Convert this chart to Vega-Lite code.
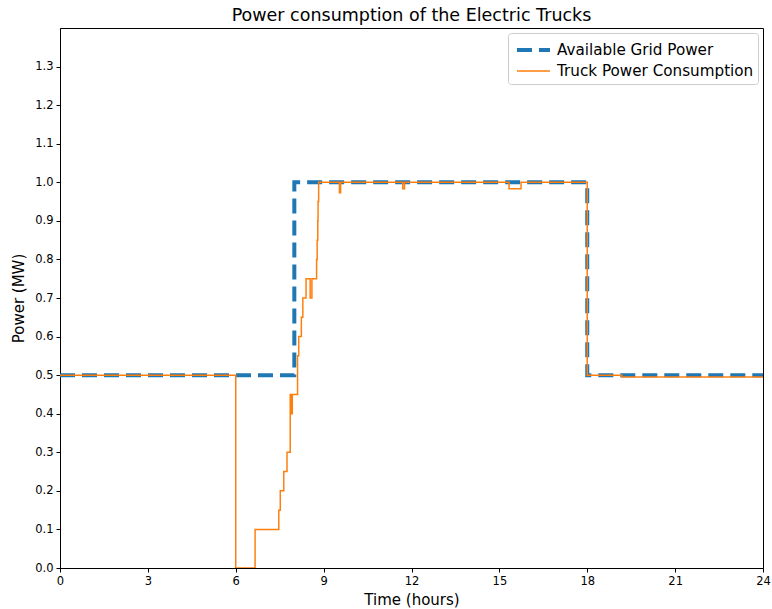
{
  "$schema": "https://vega.github.io/schema/vega-lite/v6.json",
  "width": 703,
  "height": 540,
  "autosize": "none",
  "padding": {"left": 60, "top": 28, "right": 9, "bottom": 41},
  "background": "white",
  "config": {
    "font": "DejaVu Sans",
    "view": {"stroke": "black", "strokeWidth": 1},
    "axis": {"grid": false, "domainColor": "black", "tickColor": "black", "labelColor": "black", "titleColor": "black", "labelFont": "DejaVu Sans", "titleFont": "DejaVu Sans", "labelFontSize": 11.5, "titleFontSize": 15, "titleFontWeight": "normal", "tickSize": 4, "labelPadding": 3}
  },
  "title": {"text": "Power consumption of the Electric Trucks", "font": "DejaVu Sans", "fontSize": 17.5, "fontWeight": "normal", "color": "black", "offset": 4},
  "datasets": {
    "grid": [
      {"t": 0, "p": 0.5, "series": "Available Grid Power"},
      {"t": 8, "p": 1.0, "series": "Available Grid Power"},
      {"t": 18, "p": 0.5, "series": "Available Grid Power"},
      {"t": 24, "p": 0.5, "series": "Available Grid Power"}
    ],
    "truck": [
      {"t": 0, "p": 0.5, "series": "Truck Power Consumption"},
      {"t": 6.0, "p": 0.0, "series": "Truck Power Consumption"},
      {"t": 6.66, "p": 0.1, "series": "Truck Power Consumption"},
      {"t": 7.47, "p": 0.15, "series": "Truck Power Consumption"},
      {"t": 7.52, "p": 0.2, "series": "Truck Power Consumption"},
      {"t": 7.64, "p": 0.25, "series": "Truck Power Consumption"},
      {"t": 7.75, "p": 0.3, "series": "Truck Power Consumption"},
      {"t": 7.86, "p": 0.45, "series": "Truck Power Consumption"},
      {"t": 7.9, "p": 0.4, "series": "Truck Power Consumption"},
      {"t": 7.93, "p": 0.45, "series": "Truck Power Consumption"},
      {"t": 8.11, "p": 0.55, "series": "Truck Power Consumption"},
      {"t": 8.15, "p": 0.6, "series": "Truck Power Consumption"},
      {"t": 8.24, "p": 0.65, "series": "Truck Power Consumption"},
      {"t": 8.29, "p": 0.7, "series": "Truck Power Consumption"},
      {"t": 8.4, "p": 0.75, "series": "Truck Power Consumption"},
      {"t": 8.54, "p": 0.7, "series": "Truck Power Consumption"},
      {"t": 8.6, "p": 0.75, "series": "Truck Power Consumption"},
      {"t": 8.76, "p": 0.8, "series": "Truck Power Consumption"},
      {"t": 8.78, "p": 0.85, "series": "Truck Power Consumption"},
      {"t": 8.8, "p": 0.9, "series": "Truck Power Consumption"},
      {"t": 8.81, "p": 0.95, "series": "Truck Power Consumption"},
      {"t": 8.83, "p": 1.0, "series": "Truck Power Consumption"},
      {"t": 9.54, "p": 0.973, "series": "Truck Power Consumption"},
      {"t": 9.58, "p": 1.0, "series": "Truck Power Consumption"},
      {"t": 11.7, "p": 0.983, "series": "Truck Power Consumption"},
      {"t": 11.76, "p": 1.0, "series": "Truck Power Consumption"},
      {"t": 15.33, "p": 0.983, "series": "Truck Power Consumption"},
      {"t": 15.74, "p": 1.0, "series": "Truck Power Consumption"},
      {"t": 18.0, "p": 0.5, "series": "Truck Power Consumption"},
      {"t": 19.18, "p": 0.495, "series": "Truck Power Consumption"},
      {"t": 24, "p": 0.495, "series": "Truck Power Consumption"}
    ]
  },
  "encoding": {
    "x": {"field": "t", "type": "quantitative", "title": "Time (hours)", "scale": {"domain": [0, 24], "nice": false, "zero": false}, "axis": {"values": [0, 3, 6, 9, 12, 15, 18, 21, 24], "format": "d", "labelFlush": false, "titlePadding": 6}},
    "y": {"field": "p", "type": "quantitative", "title": "Power (MW)", "scale": {"domain": [0, 1.4], "nice": false}, "axis": {"values": [0, 0.1, 0.2, 0.3, 0.4, 0.5, 0.6, 0.7, 0.8, 0.9, 1.0, 1.1, 1.2, 1.3], "format": ".1f", "labelFlush": false, "titlePadding": 8}},
    "color": {"field": "series", "type": "nominal", "scale": {"domain": ["Available Grid Power", "Truck Power Consumption"], "range": ["#1f77b4", "#ff7f0e"]}, "legend": {"title": null, "orient": "top-right", "offset": 5, "labelFontSize": 15.2, "labelLimit": 400, "labelFont": "DejaVu Sans", "labelColor": "black", "symbolType": "M-0.73,0H2.27", "symbolSize": 484, "strokeColor": "#cccccc", "fillColor": "white", "cornerRadius": 3, "padding": 4, "rowPadding": 0, "labelOffset": 19}},
    "strokeDash": {"field": "series", "type": "nominal", "scale": {"domain": ["Available Grid Power", "Truck Power Consumption"], "range": [[15, 7], [1, 0]]}, "legend": null},
    "strokeWidth": {"field": "series", "type": "nominal", "scale": {"domain": ["Available Grid Power", "Truck Power Consumption"], "range": [4, 1.5]}, "legend": null}
  },
  "layer": [
    {"data": {"name": "grid"}, "mark": {"type": "line", "interpolate": "step-after", "clip": true}},
    {"data": {"name": "truck"}, "mark": {"type": "line", "interpolate": "step-after", "clip": true}}
  ]
}
